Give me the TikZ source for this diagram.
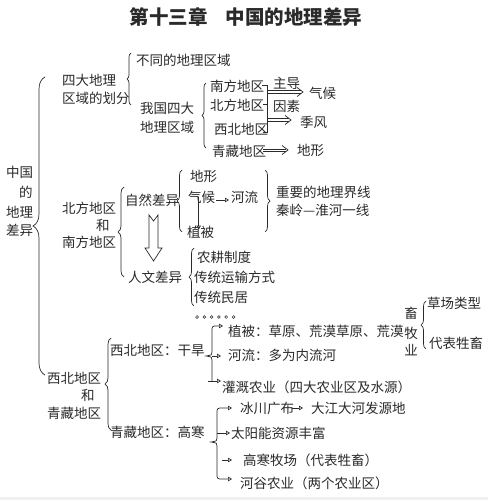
\documentclass[tikz,border=0pt]{standalone}
\usepackage{fontspec}
\newfontfamily\cjk{Noto Sans CJK SC}
\usetikzlibrary{arrows.meta,decorations.pathreplacing}
\definecolor{ink}{HTML}{2A2A2A}
\tikzset{
  t/.style={anchor=west, inner sep=0pt, font=\cjk\fontsize{13.5}{14}\selectfont, text=ink},
  tc/.style={t, anchor=center},
  ln/.style={draw=ink, line width=0.7pt},
  sarr/.style={ln, -{Triangle[open, length=4pt, width=4.5pt]}},
  br/.style={ln, decorate, decoration={brace, amplitude=#1}},
  br/.default=5pt,
}
\begin{document}
\begin{tikzpicture}[x=1pt, y=-1pt]
\useasboundingbox (0,0) rectangle (488,500);
\fill[white] (0,0) rectangle (488,500);
\fill[black!6] (0,497) rectangle (488,500);
% title
\node[anchor=center, inner sep=0pt, font=\cjk\bfseries\fontsize{19.5}{20}\selectfont, text=ink] (title) at (246,17) {第十三章\hspace{0.9em}中国的地理差异};
% root
\node[t] (r1) at (6,172) {中国};
\node[t] (r2) at (19,192) {的};
\node[t] (r3) at (6,212) {地理};
\node[t] (r4) at (6,230) {差异};
\draw[br=12pt] (45,375) -- (45,77);
% part 1
\node[t] (p1a) at (62,80) {四大地理};
\node[t] (p1b) at (62,98) {区域的划分};
\draw[br=4pt] (131,105) -- (131,53);
\node[t] (bt) at (136,60) {不同的地理区域};
\node[t] (wg1) at (140,108) {我国四大};
\node[t] (wg2) at (140,127) {地理区域};
\draw[br=4pt] (206,148) -- (206,83);
\node[t] (nf) at (210,86) {南方地区};
\node[t] (bf) at (210,105) {北方地区};
\node[t] (xb) at (214,129) {西北地区};
\node[t] (qz) at (212,151) {青藏地区};
\draw[ln] (262,85) -- (267,85) -- (267,132) -- (263,132);
\draw[ln] (267,104) -- (263,104);
\node[t] (zd) at (273,83) {主导};
\node[t] (ys) at (273,106) {因素};
\node[t] (qh) at (309,93) {气候};
\node[t] (jf) at (300,122) {季风};
\node[t] (dx) at (297,150) {地形};
\coordinate (k1) at (267,92);
\coordinate (e1) at (303,92);
\coordinate (k2) at (267,120);
\coordinate (e2) at (291,120);
\coordinate (k3) at (263,150);
\coordinate (e3) at (288,150);
\foreach \st/\en in {k1/e1, k2/e2, k3/e3} {
  \draw[ln, line width=0.6pt] ([yshift=1.2pt]\st) -- ([xshift=-2.5pt, yshift=1.2pt]\en);
  \draw[ln, line width=0.6pt] ([yshift=-1.2pt]\st) -- ([xshift=-2.5pt, yshift=-1.2pt]\en);
  \draw[ln, line join=miter] ([shift={(-6,-4.5)}]\en) -- (\en) -- ([shift={(-6,4.5)}]\en);
}
% part 2
\node[t] (nb) at (62,208) {北方地区};
\node[t] (he1) at (96,225) {和};
\node[t] (nn) at (62,242) {南方地区};
\draw[br=6pt] (124,277) -- (124,187);
\node[t] (zr) at (125,200) {自然差异};
\node[t] (rw) at (128,277) {人文差异};
\draw[ln] (149,215) -- (153.5,221) -- (158,215) -- (158,248) -- (162,248) -- (153.5,261) -- (145,248) -- (149,248) -- cycle;
\draw[br=5pt] (182,232) -- (182,170);
\node[t] (dx2) at (190,176) {地形};
\node[t] (qh2) at (188,197) {气候};
\node[t] (hl) at (231,197) {河流};
\node[t] (zb) at (187,232) {植被};
\draw[sarr, shorten <=1pt, shorten >=2pt] ([yshift=-3pt]qh2.east) -- ([yshift=-3pt]hl.west);
\draw[sarr] ([xshift=-3pt, yshift=6pt]qh2.south) -- ([xshift=-3pt, yshift=-4pt]qh2.south |- zb.north);
\draw[br=5pt] (265,170) -- (265,232);
\node[t] (zy) at (276,192) {重要的地理界线};
\node[t] (ql) at (276,210) {秦岭—淮河一线};
\draw[br=5pt] (194,306) -- (194,248);
\node[t] (ng) at (197,257) {农耕制度};
\node[t] (cy) at (194,277) {传统运输方式};
\node[t] (mj) at (194,297) {传统民居};
\foreach \i in {0,...,5} \draw[ink, line width=0.5pt] (197+7.3*\i,317) circle (1.4pt);
% part 3
\node[t] (xbq) at (47,378) {西北地区};
\node[t] (he2) at (81,395) {和};
\node[t] (qzq) at (47,413) {青藏地区};
\draw[br=6pt] (111,430) -- (111,338);
\node[t] (gh) at (110,350) {西北地区：干旱};
\node[t] (gc) at (110,432) {青藏地区：高寒};
% 干旱 branch
\coordinate (g1) at (223,326);
\coordinate (g2) at (221,356);
\coordinate (g3) at (221,381);
\draw[sarr] (212,352) -- (212,332) .. controls (212,326) .. (217,326) -- (g1);
\draw[ln] (212,352) .. controls (212,355) .. (206,356) .. controls (212,357) .. (212,360) -- (212,381);
\draw[sarr] (212,356) -- (g2);
\draw[sarr] (208,381) -- (g3);
\node[t] (zb2) at (228,331) {植被：草原、荒漠草原、荒漠};
\node[t] (hl2) at (228,355) {河流：多为内流河};
\node[t] (gg) at (222,387) {灌溉农业（四大农业区及水源）};
\node[tc] (m1) at (411,313) {畜};
\node[tc] (m2) at (411,333) {牧};
\node[tc] (m3) at (411,350) {业};
\draw[br=5pt] (426,349) -- (426,301);
\node[t] (cc) at (427,303) {草场类型};
\node[t] (db) at (429,343) {代表牲畜};
% 高寒 branch
\coordinate (h1) at (232,408);
\coordinate (h2) at (230,433);
\coordinate (h3) at (232,460);
\coordinate (h4) at (232,479);
\draw[sarr] (217,438) -- (217,414) .. controls (217,408) .. (223,408) -- (h1);
\draw[ln] (217,438) .. controls (217,441) .. (211,442) .. controls (217,443) .. (217,446);
\draw[sarr] (217,446) -- (217,473) .. controls (217,479) .. (223,479) -- (h4);
\draw[sarr] (217,433) -- (h2);
\draw[sarr] (222,460) -- (h3);
\node[t] (bc) at (240,408) {冰川广布};
\node[t] (dj) at (311,408) {大江大河发源地};
\draw[sarr, shorten <=-2pt, shorten >=8pt] (bc.east) -- (dj.west);
\node[t] (ty) at (231,433) {太阳能资源丰富};
\node[t] (gm) at (243,460) {高寒牧场（代表牲畜）};
\node[t] (hg) at (240,483) {河谷农业（两个农业区）};
\end{tikzpicture}
\end{document}
